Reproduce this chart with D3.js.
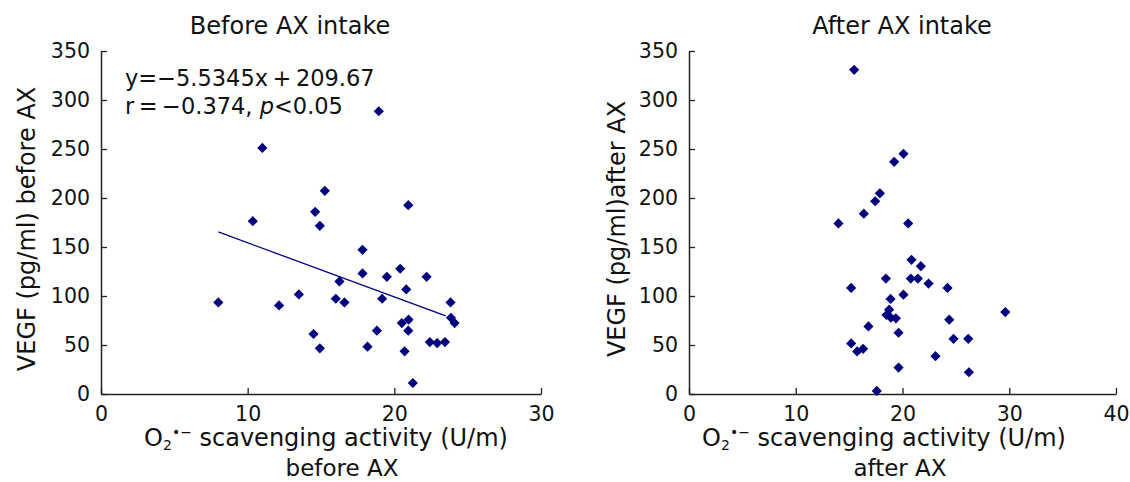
<!DOCTYPE html>
<html>
<head>
<meta charset="utf-8">
<script src="https://cdn.jsdelivr.net/npm/d3@7"></script>
<style>
  body { margin: 0; background: #fff; }
  svg text { font-family: "DejaVu Sans", Verdana, sans-serif; fill: #111; }
</style>
</head>
<body>
<svg id="chart" width="1130" height="482"></svg>
<script>
// values
const beforeX = [8.0, 10.35, 11.0, 12.14, 13.49, 14.6, 14.92, 15.26, 14.49, 14.92, 16.26, 16.01, 16.6, 17.83, 17.83, 18.17, 18.81, 18.94, 19.17, 19.49, 20.4, 20.51, 20.97, 20.81, 20.95, 20.95, 20.7, 21.26, 22.2, 22.42, 22.92, 23.45, 23.83, 23.86, 24.11];
const beforeY = [93.4, 176.4, 251.1, 90.4, 101.6, 185.9, 171.6, 207.3, 61.2, 46.6, 114.9, 97.2, 93.4, 147.1, 123.0, 48.3, 64.6, 288.5, 97.2, 119.6, 127.8, 72.4, 75.8, 106.7, 192.7, 64.6, 43.5, 11.2, 119.6, 53.0, 52.0, 53.0, 93.4, 77.8, 72.4];

const afterX = [15.47, 20.09, 19.22, 17.88, 17.44, 16.38, 14.0, 20.53, 20.84, 21.72, 18.44, 20.78, 21.44, 22.44, 15.19, 24.22, 20.09, 18.88, 18.75, 18.5, 18.91, 19.38, 29.63, 24.38, 16.81, 19.63, 24.78, 26.16, 15.19, 16.31, 15.75, 23.09, 19.63, 26.22, 17.59];
const afterY = [330.8, 245.1, 236.9, 204.8, 196.7, 184.0, 174.1, 174.1, 136.9, 130.4, 117.8, 117.8, 117.8, 112.7, 108.2, 108.2, 101.4, 97.0, 86.0, 80.6, 77.8, 77.2, 83.6, 75.8, 69.0, 62.5, 56.3, 56.3, 51.6, 46.1, 43.4, 38.6, 27.0, 22.2, 3.1];

// regression shown on the left panel
const fitSlope = -5.5345;
const fitIntercept = 209.67;
const fitRange = [8.0, 23.5];

const yTicks = [0, 50, 100, 150, 200, 250, 300, 350];
const xTicksBefore = [0, 10, 20, 30];
const xTicksAfter = [0, 10, 20, 30, 40];

const svg = d3.select("#chart");
const navy = "#00007f";

function panel(opt) {
    const x = d3.scaleLinear().domain(opt.xDomain).range([opt.left, opt.right]);
    const y = d3.scaleLinear().domain([0, 350]).range([394, 51]);
    const g = svg.append("g");

    // axes, ticks pointing inward
    const xAxis = g.append("g").attr("transform", "translate(0,394)")
        .call(d3.axisBottom(x).tickValues(opt.xTicks).tickSize(-6).tickPadding(12).tickSizeOuter(0));
    const yAxis = g.append("g").attr("transform", `translate(${opt.left},0)`)
        .call(d3.axisLeft(y).tickValues(yTicks).tickSize(-6).tickPadding(11).tickSizeOuter(0));
    [xAxis, yAxis].forEach(a => {
        a.select(".domain").attr("stroke", "#222").attr("stroke-width", 1.5);
        a.selectAll(".tick line").attr("stroke", "#222").attr("stroke-width", 1.3);
        a.selectAll(".tick text").attr("font-size", 20.5).attr("fill", "#111")
            .attr("font-family", "DejaVu Sans, Verdana, sans-serif");
    });
    xAxis.selectAll(".tick text").attr("dy", "0.71em");

    // points as diamonds
    const diamond = d3.symbol().type(d3.symbolSquare).size(52);
    g.append("g").selectAll("path")
        .data(opt.xs.map((v, i) => [v, opt.ys[i]]))
        .join("path")
        .attr("d", diamond)
        .attr("transform", d => `translate(${x(d[0])},${y(d[1])}) rotate(45)`)
        .attr("fill", navy);

    // title
    g.append("text").attr("x", opt.titleX).attr("y", 34)
        .attr("text-anchor", "middle").attr("font-size", 24).text(opt.title);

    // y label
    g.append("text")
        .attr("transform", `translate(${opt.yLabelX},229) rotate(-90)`)
        .attr("text-anchor", "middle").attr("font-size", 24).text(opt.yLabel);

    // x label, two lines
    const xl = g.append("text").attr("x", opt.xLabelX).attr("y", 446)
        .attr("text-anchor", "middle").attr("font-size", 24);
    xl.append("tspan").text("O");
    xl.append("tspan").attr("font-size", 14).attr("dy", 4).text("2");
    xl.append("tspan").attr("font-size", 14).attr("dy", -13).text("•−");
    xl.append("tspan").attr("dy", 9).text(" scavenging activity (U/m)");
    g.append("text").attr("x", opt.xLabel2X).attr("y", 476)
        .attr("text-anchor", "middle").attr("font-size", 23).text(opt.xLabel2);

    return { g, x, y };
}

const left = panel({
    xDomain: [0, 30], left: 101, right: 541, xTicks: xTicksBefore,
    xs: beforeX, ys: beforeY,
    title: "Before AX intake", titleX: 290,
    yLabel: "VEGF (pg/ml) before AX", yLabelX: 35,
    xLabelX: 326, xLabel2: "before AX", xLabel2X: 342
});

left.g.append("line")
    .attr("x1", left.x(fitRange[0])).attr("y1", left.y(fitSlope * fitRange[0] + fitIntercept))
    .attr("x2", left.x(fitRange[1])).attr("y2", left.y(fitSlope * fitRange[1] + fitIntercept))
    .attr("stroke", navy).attr("stroke-width", 1.3);

const eq1 = left.g.append("text").attr("x", 125).attr("y", 86).attr("font-size", 22.5);
eq1.text("y=−5.5345x\u2009+\u2009209.67");
const eq2 = left.g.append("text").attr("x", 125).attr("y", 114).attr("font-size", 22.5);
eq2.append("tspan").text("r\u2009=\u2009−0.374, ");
eq2.append("tspan").attr("font-style", "italic").text("p");
eq2.append("tspan").text("<0.05");

panel({
    xDomain: [0, 40], left: 689, right: 1116, xTicks: xTicksAfter,
    xs: afterX, ys: afterY,
    title: "After AX intake", titleX: 902,
    yLabel: "VEGF (pg/ml)after AX", yLabelX: 625,
    xLabelX: 884, xLabel2: "after AX", xLabel2X: 900
});
</script>
</body>
</html>
